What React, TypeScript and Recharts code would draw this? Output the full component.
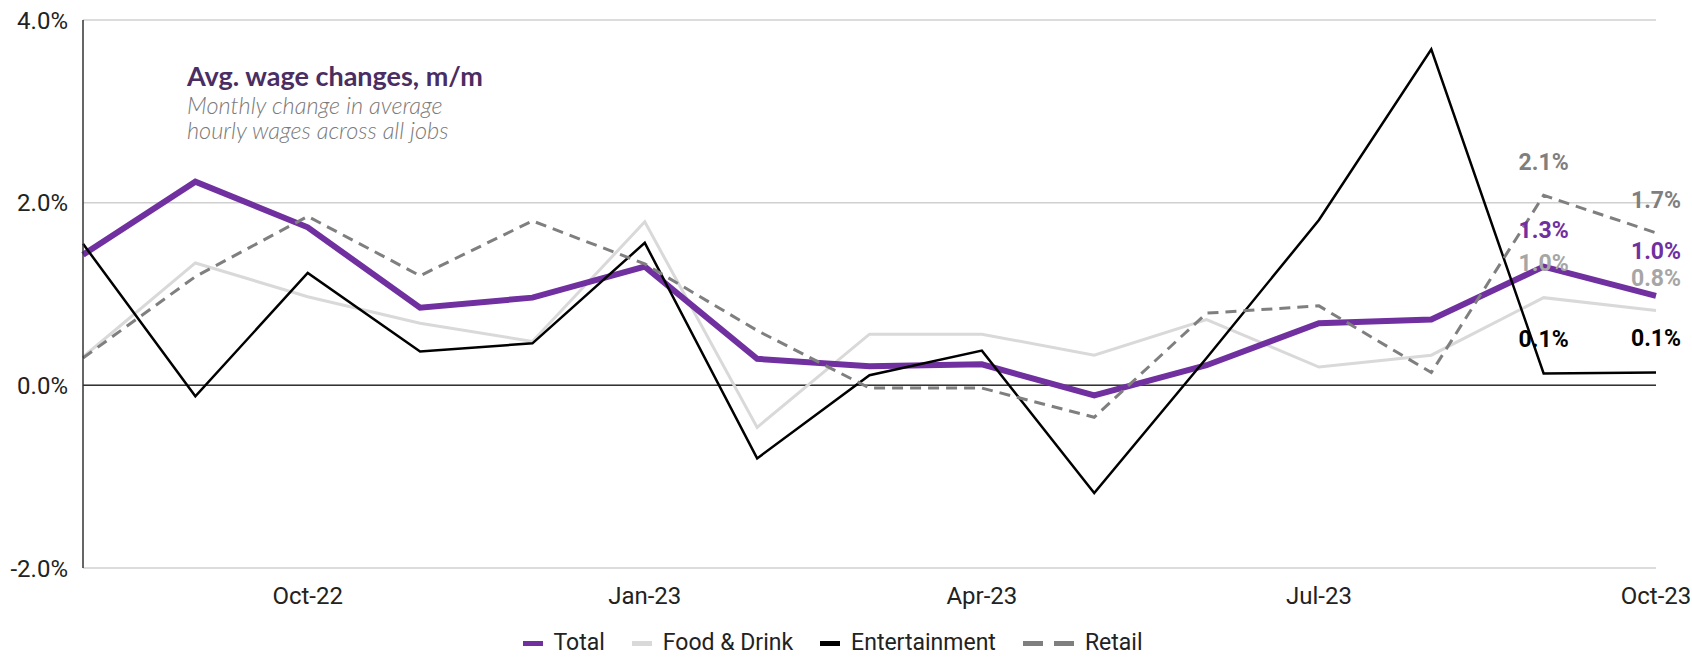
import React from "react"
import {
  LineChart,
  Line,
  XAxis,
  YAxis,
  CartesianGrid,
  ReferenceLine,
  Legend,
} from "recharts"

const months = [
  "Aug-22", "Sep-22", "Oct-22", "Nov-22", "Dec-22", "Jan-23", "Feb-23", "Mar-23",
  "Apr-23", "May-23", "Jun-23", "Jul-23", "Aug-23", "Sep-23", "Oct-23",
]
const total = [1.43, 2.23, 1.73, 0.85, 0.96, 1.3, 0.29, 0.21, 0.23, -0.11, 0.22, 0.68, 0.72, 1.3, 0.98]
const foodDrink = [0.31, 1.34, 0.97, 0.68, 0.48, 1.79, -0.46, 0.56, 0.56, 0.33, 0.72, 0.2, 0.33, 0.96, 0.82]
const entertainment = [1.55, -0.12, 1.23, 0.37, 0.46, 1.56, -0.8, 0.11, 0.38, -1.18, 0.3, 1.81, 3.68, 0.13, 0.14]
const retail = [0.3, 1.19, 1.85, 1.2, 1.8, 1.33, 0.6, -0.03, -0.03, -0.35, 0.79, 0.87, 0.14, 2.08, 1.67]

const xTicks = ["Oct-22", "Jan-23", "Apr-23", "Jul-23", "Oct-23"]
const yTicks = [-2, 0, 2, 4]

const data = months.map((m, i) => ({
  month: m,
  total: total[i],
  food: foodDrink[i],
  ent: entertainment[i],
  retail: retail[i],
}))

// only the last two months carry value labels
const labelFrom = months.length - 2

const PURPLE = "#7030a0"
const FOOD = "#d9d9d9"
const RETAIL = "#7f7f7f"

function makeLabel(color: string, offsets: number[]) {
  return (props: any) => {
    const { x, y, value, index } = props
    if (index < labelFrom || x == null || y == null) return null
    const dy = offsets[index - labelFrom]
    return (
      <text
        key={`lbl-${index}`}
        x={x}
        y={y + dy}
        dy="0.35em"
        textAnchor="middle"
        fontFamily="Roboto"
        fontWeight={700}
        fontSize={23}
        fill={color}
      >
        {`${Number(value).toFixed(1)}%`}
      </text>
    )
  }
}

const legendItems = [
  { name: "Total", color: PURPLE, dashed: false },
  { name: "Food & Drink", color: FOOD, dashed: false },
  { name: "Entertainment", color: "#000", dashed: false },
  { name: "Retail", color: RETAIL, dashed: true },
]

function LegendContent() {
  const swatch = (c: string, k: string) => (
    <span key={k} style={{ width: 20, height: 5, background: c, marginRight: 11 }} />
  )
  return (
    <div
      style={{
        display: "flex",
        justifyContent: "center",
        alignItems: "center",
        height: 22,
        lineHeight: "22px",
        fontFamily: "Roboto",
        fontSize: 23,
        color: "#222",
      }}
    >
      {legendItems.map((it) => (
        <div key={it.name} style={{ display: "flex", alignItems: "center", marginRight: 27 }}>
          {swatch(it.color, "a")}
          {it.dashed && swatch(it.color, "b")}
          <span>{it.name}</span>
        </div>
      ))}
    </div>
  )
}

const tickStyle = { fontSize: 24, fill: "#222", fontFamily: "Roboto" }

export default function App() {
  return (
    <div
      style={{
        position: "fixed",
        left: 0,
        top: 0,
        width: 1692,
        height: 658,
        background: "#fff",
        overflow: "hidden",
      }}
    >
      <LineChart width={1692} height={658} data={data} margin={{ top: 20, right: 36, left: 0, bottom: 0 }}>
        <CartesianGrid horizontal vertical={false} stroke="#d0d0d0" strokeWidth={1.5} />
        <XAxis
          dataKey="month"
          ticks={xTicks}
          axisLine={false}
          tickLine={false}
          tickSize={0}
          tickMargin={19}
          height={68}
          interval={0}
          tick={tickStyle}
        />
        <YAxis
          domain={[-2, 4]}
          ticks={yTicks}
          width={83}
          tickLine={false}
          tickSize={0}
          tickMargin={15}
          axisLine={{ stroke: "#333", strokeWidth: 1.5 }}
          tickFormatter={(v) => `${Number(v).toFixed(1)}%`}
          tick={tickStyle}
        />
        <ReferenceLine y={0} stroke="#333" strokeWidth={1.5} />
        <Legend
          verticalAlign="bottom"
          wrapperStyle={{ height: 22, width: 1692, left: 0, top: 632, bottom: "auto" }}
          content={() => <LegendContent />}
        />
        <Line
          dataKey="food"
          name="Food & Drink"
          stroke={FOOD}
          strokeWidth={3}
          dot={false}
          isAnimationActive={false}
          label={makeLabel("#a6a6a6", [-35, -32])}
        />
        <Line
          dataKey="total"
          name="Total"
          stroke={PURPLE}
          strokeWidth={6}
          dot={false}
          isAnimationActive={false}
          label={makeLabel(PURPLE, [-37, -45])}
        />
        <Line
          dataKey="ent"
          name="Entertainment"
          stroke="#000"
          strokeWidth={2.5}
          dot={false}
          isAnimationActive={false}
          label={makeLabel("#000", [-35, -35])}
        />
        <Line
          dataKey="retail"
          name="Retail"
          stroke={RETAIL}
          strokeWidth={3}
          strokeDasharray="11 7"
          dot={false}
          isAnimationActive={false}
          label={makeLabel(RETAIL, [-33, -33])}
        />
      </LineChart>
      <div style={{ position: "absolute", left: 187, top: 59, fontFamily: "Lato", color: "#4a2d62" }}>
        <div style={{ fontSize: 27, fontWeight: 700, lineHeight: "34px" }}>Avg. wage changes, m/m</div>
        <div style={{ fontSize: 23.5, fontStyle: "italic", fontWeight: 300, color: "#7a7a7a", lineHeight: "25px" }}>
          Monthly change in average
          <br />
          hourly wages across all jobs
        </div>
      </div>
    </div>
  )
}
